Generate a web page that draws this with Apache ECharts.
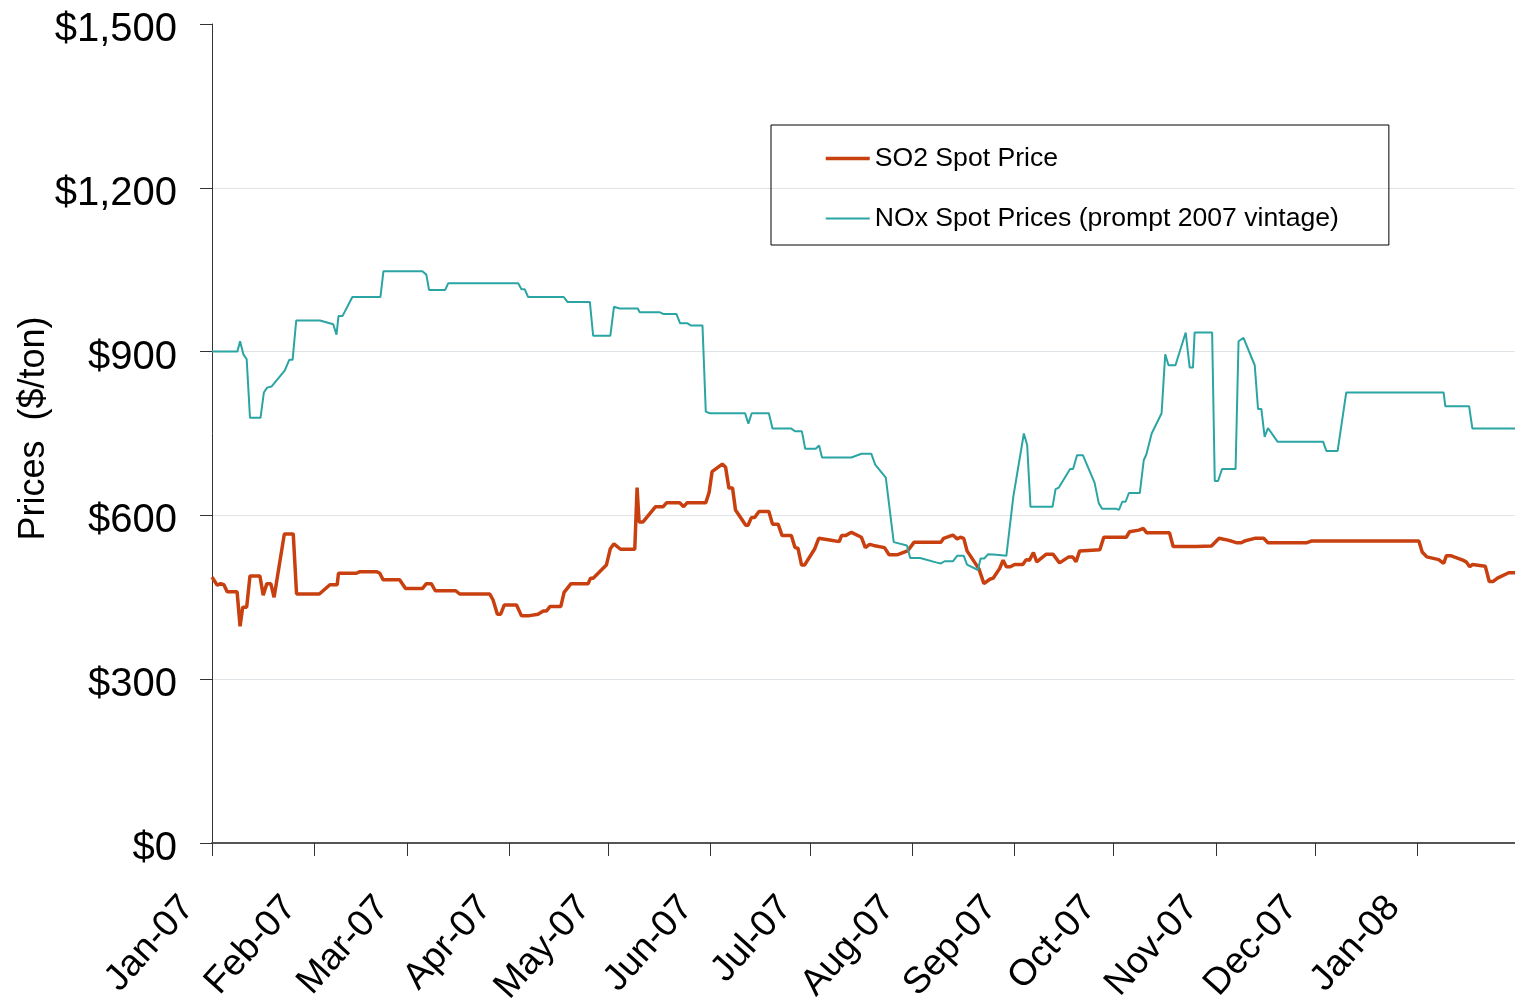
<!DOCTYPE html>
<html>
<head>
<meta charset="utf-8">
<script src="https://cdn.jsdelivr.net/npm/echarts@6/dist/echarts.min.js"></script>
<style>
html,body{margin:0;padding:0;background:#fff;}
#chart{width:1515px;height:1005px;}
</style>
</head>
<body>
<div id="chart"></div>
<script>
// Days elapsed since 1 Jan 2007 for each vertex of the traces, with prices in $/ton
var seriesNames = ['SO2 Spot Price', 'NOx Spot Prices (prompt 2007 vintage)'];
var yTicks = [0, 300, 600, 900, 1200, 1500];

var so2Days = [0,1.6,2.6,3.6,4.6,7.6,8.5,9.3,10.5,11.5,14.5,15.5,16.6,17.8,18.8,21.9,24.6,25.6,32.5,35.7,37.9,38.3,43.7,44.8,49.8,50.8,51.8,56.8,58.6,63.7,64.9,66.4,67.6,73.8,75,84.1,85.1,86.4,87.4,88.5,92.2,93.7,95.7,98.7,100.3,101.3,102.3,105.6,106.6,108.7,113.9,114.6,115.4,119.4,120.6,121.7,123.7,128,128.7,129.3,130.5,134.3,136.6,137.6,141.6,142.8,143.8,149.5,150.5,151.4,154.5,155.5,156.5,157.6,158.5,161.6,162.3,163.3,164.3,165.6,168.6,169.7,171.4,172.6,175.4,176.5,177.4,178.5,179.4,182.5,183.7,187,189.9,190.6,191.8,193.6,196.6,197.8,199.1,200.3,203.6,205,207.6,210.6,212.6,220.7,221.5,224.3,225.6,226.6,227.6,228.6,232.2,233.7,235.5,236.5,238.5,239.5,240.5,241.7,243,245.5,246.5,247.5,248.7,249.7,252.6,254.6,256.6,259.4,260.6,261.6,262.7,268.8,270,276.8,277.8,280.6,282,283,289.9,291,298,302.6,304.9,306.6,308.6,310.1,311.6,312.6,315.7,318.4,319.7,331.5,332.8,365.4,366.4,367.8,371.4,372.9,373.7,375.2,378.7,379.7,380.8,381.6,382.2,385.5,386.7,387.9,389.2,392.6,394.5];
var so2Price = [487,472,475,473,460,460,397,432,432,489,489,454,475,475,450,566,566,456,456,473,473,494,494,497,497,494,482,482,466,466,475,475,462,462,456,456,445,419,419,436,436,416,416,419,425,425,433,433,459,475,475,485,485,509,539,548,538,538,651,588,588,616,616,623,623,616,623,623,642,680,694,688,650,650,610,582,582,596,596,607,607,584,584,563,563,541,540,509,509,539,558,555,552,563,563,569,560,541,547,545,541,528,528,535,551,551,558,564,557,560,558,535,502,475,483,485,503,518,506,506,510,510,519,518,532,515,529,529,513,524,524,515,535,537,560,560,570,573,576,568,568,543,543,544,558,556,553,550,550,553,558,558,550,550,553,553,533,524,519,512,526,526,518,515,506,510,507,507,479,479,485,495,495];

var noxDays = [0,7.7,8.5,9.5,10.5,11.5,14.7,15.7,16.7,18,22,23.4,24.4,25.5,32.7,36.7,37.7,38.3,39.5,42.5,51,51.9,63.7,64.9,65.7,70.6,71.5,92.7,93.7,94.7,95.7,106.5,107.6,114.4,115.4,120.6,121.7,123.4,128.9,129.5,135.6,136.6,140.6,141.7,143.9,144.9,148.5,149.5,150.7,161.4,162.4,163.4,168.6,169.7,175.4,176.5,178.6,179.6,182.8,183.8,184.7,193.6,196.6,199.6,200.8,204,206.4,210.4,211.4,214.4,219.2,220.7,221.8,224.3,225.6,227.6,228.6,231.9,232.7,233.8,235,237.5,240.5,242.6,245.8,246.8,247.8,254.5,255.4,256.4,259.8,260.7,261.9,263.7,267.2,267.7,268.5,269.5,273.8,274.6,275.6,276.6,277.6,280.9,282.1,282.9,283.5,284.5,287.5,288.6,289.6,291.7,294.8,296,297,297.5,302.8,303.6,304.6,305.8,309.9,310.8,312.3,315.7,316.7,317.7,318.7,319.7,322.6,336.4,337.4,340.8,343.4,372.9,373.4,380.6,381.6,394.5];
var noxPrice = [900,900,919,895,886,779,779,825,834,836,865,885,885,957,957,950,931,965,965,1000,1000,1047,1047,1041,1013,1013,1025,1025,1014,1014,1000,1000,991,991,929,929,982,979,979,972,972,969,969,952,952,948,948,790,787,787,768,787,787,759,759,754,754,722,722,728,706,706,713,713,693,669,551,545,522,522,514,512,516,516,526,526,510,500,521,521,529,528,526,634,750,729,616,616,648,651,685,685,710,710,660,660,622,612,612,610,625,625,641,641,701,712,712,750,787,895,875,875,935,871,871,935,935,663,663,685,685,919,925,875,795,795,744,760,735,735,718,718,825,825,800,800,759,759];

var DAY = 86400000;
var base = new Date(2007, 0, 1).getTime();
function pairs(days, vals) {
  return days.map(function (d, i) { return [base + d * DAY, vals[i]]; });
}

var SO2_COLOR = '#C8400F';
var NOX_COLOR = '#2BA5A3';
var FONT = "'Liberation Sans', Arial, sans-serif";
var chart = echarts.init(document.getElementById('chart'));
chart.setOption({
  animation: false,
  backgroundColor: '#ffffff',
  textStyle: { fontFamily: FONT, color: '#000' },
  grid: { left: 212, right: 0, top: 24, bottom: 162, containLabel: false, outerBoundsMode: 'none' },
  legend: {
    orient: 'vertical',
    left: 771,
    top: 125,
    padding: [20, 50, 13, 53],
    itemGap: 33,
    itemWidth: 44,
    itemHeight: 27,
    borderColor: '#000',
    borderWidth: 1,
    itemStyle: { opacity: 0 },
    textStyle: { fontFamily: FONT, fontSize: 26.6, color: '#000' },
    data: [
      { name: seriesNames[0], lineStyle: { width: 3.5, color: SO2_COLOR } },
      { name: seriesNames[1], lineStyle: { width: 2, color: NOX_COLOR } }
    ]
  },
  xAxis: {
    type: 'time',
    min: base,
    max: base + 394.5 * DAY,
    splitNumber: 14,
    minInterval: 28 * DAY,
    axisLine: { lineStyle: { color: '#555', width: 2 } },
    axisTick: { show: true, length: 13, lineStyle: { color: '#333', width: 1 } },
    axisLabel: {
      formatter: '{MMM}-{yy}',
      rotate: 48,
      margin: 32,
      padding: [0, 36, 0, 0],
      fontSize: 37,
      fontFamily: FONT,
      color: '#000'
    },
    splitLine: { show: false }
  },
  yAxis: {
    type: 'value',
    min: yTicks[0],
    max: yTicks[yTicks.length - 1],
    interval: yTicks[1] - yTicks[0],
    name: 'Prices  ($/ton)',
    nameLocation: 'middle',
    nameGap: 160,
    nameMoveOverlap: false,
    nameTextStyle: { fontFamily: FONT, fontSize: 36, color: '#000', padding: [0, 0, 0, 10] },
    axisLine: { show: true, lineStyle: { color: '#333', width: 1 } },
    axisTick: { show: true, length: 12, lineStyle: { color: '#333' } },
    axisLabel: {
      margin: 35,
      fontFamily: FONT,
      color: '#000',
      formatter: function (v) { return '{v|$' + v.toLocaleString('en-US') + '}'; },
      rich: { v: { fontSize: 40, fontFamily: FONT, color: '#000', padding: [12, 0, 0, 0] } }
    },
    splitLine: { show: true, showMaxLine: false, lineStyle: { color: '#dde3e6', width: 1 } }
  },
  series: [
    {
      name: seriesNames[0],
      type: 'line',
      data: pairs(so2Days, so2Price),
      symbol: 'none',
      lineStyle: { color: SO2_COLOR, width: 3.5 },
      itemStyle: { color: SO2_COLOR },
      z: 2
    },
    {
      name: seriesNames[1],
      type: 'line',
      data: pairs(noxDays, noxPrice),
      symbol: 'none',
      lineStyle: { color: NOX_COLOR, width: 2 },
      itemStyle: { color: NOX_COLOR },
      z: 3
    }
  ]
});
</script>
</body>
</html>
